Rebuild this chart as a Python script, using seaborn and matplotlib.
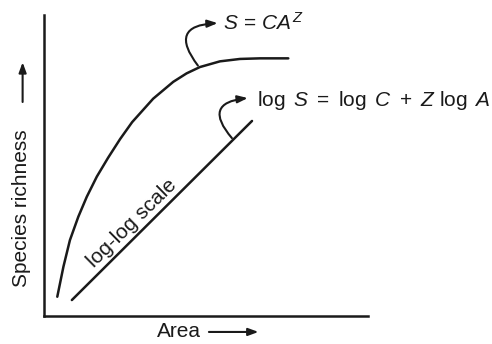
import matplotlib
matplotlib.use("Agg")
import matplotlib.pyplot as plt
import seaborn as sns
import pandas as pd

# ---- data (axes scaled 0-100) ----
curve_area = [4.1, 6.0, 8.0, 10.6, 13.2, 16.3, 19.8, 23.5, 27.2, 33.7, 39.9,
              44.0, 48.1, 54.3, 60.5, 66.7, 75.4]
curve_richness = [6.4, 16.4, 25.2, 33.0, 39.6, 46.3, 52.6, 58.8, 64.4, 72.2, 77.8,
                  80.6, 82.7, 84.6, 85.4, 85.6, 85.6]
loglog_area = [8.6, 64.2]
loglog_richness = [5.3, 64.8]

label_curve = r"$S\,=\,CA^{Z}$"
label_line = r"$\log\ S\ =\ \log\ C\ +\ Z\ \log\ A$"
label_scale = "log-log scale"
xlabel = "Area"
ylabel = "Species richness"

sns.set_style("white")
plt.rcParams["font.family"] = ["Liberation Sans", "DejaVu Sans"]
plt.rcParams["mathtext.fontset"] = "custom"
plt.rcParams["mathtext.rm"] = "Liberation Sans"
plt.rcParams["mathtext.it"] = "Liberation Sans:italic"
plt.rcParams["mathtext.bf"] = "Liberation Sans:bold"

ink = "#1a1a1a"
fs = 15

fig = plt.figure(figsize=(4.92, 3.44), dpi=100)
ax = fig.add_axes([44 / 492, 28 / 344, 324 / 492, 301 / 344])

df_curve = pd.DataFrame({"area": curve_area, "richness": curve_richness})
df_line = pd.DataFrame({"area": loglog_area, "richness": loglog_richness})
sns.lineplot(data=df_curve, x="area", y="richness", ax=ax, color=ink, lw=1.8,
             estimator=None, sort=False, solid_joinstyle="round",
             solid_capstyle="round")
sns.lineplot(data=df_line, x="area", y="richness", ax=ax, color=ink, lw=1.8,
             estimator=None, sort=False, solid_capstyle="round")

ax.set_xlim(0, 100)
ax.set_ylim(0, 100)
ax.set_xticks([])
ax.set_yticks([])
ax.set_xlabel("")
ax.set_ylabel("")
for s in ["top", "right"]:
    ax.spines[s].set_visible(False)
for s in ["left", "bottom"]:
    ax.spines[s].set_linewidth(1.8)
    ax.spines[s].set_color(ink)

arrow_kw = dict(arrowstyle="-|>,head_length=0.6,head_width=0.22", color=ink, lw=1.5,
                shrinkA=0, shrinkB=0)

# curly annotation arrows
ax.annotate("", xy=(53.6, 97.3), xytext=(47.5, 83.2),
            arrowprops=dict(connectionstyle="arc3,rad=-0.95", **arrow_kw),
            annotation_clip=False)
ax.text(55.2, 97.3, label_curve, fontsize=fs, color=ink, ha="left", va="center",
        clip_on=False)

ax.annotate("", xy=(62.9, 72.4), xytext=(58.0, 59.1),
            arrowprops=dict(connectionstyle="arc3,rad=-0.95", **arrow_kw),
            annotation_clip=False)
ax.text(65.7, 71.6, label_line, fontsize=fs, color=ink, ha="left", va="center",
        clip_on=False)

ax.text(27.2, 30.8, label_scale, fontsize=fs, color=ink, ha="center", va="center",
        rotation=44.5, rotation_mode="anchor")

# axis labels with arrows
ax.text(0.418, -0.053, xlabel, transform=ax.transAxes, fontsize=fs, color=ink,
        ha="center", va="center", clip_on=False)
ax.annotate("", xy=(0.662, -0.053), xytext=(0.509, -0.053), xycoords="axes fraction",
            textcoords="axes fraction", arrowprops=arrow_kw, annotation_clip=False)

ax.text(-0.068, 0.357, ylabel, transform=ax.transAxes, fontsize=fs, color=ink,
        ha="center", va="center", rotation=90, clip_on=False)
ax.annotate("", xy=(-0.066, 0.843), xytext=(-0.066, 0.711), xycoords="axes fraction",
            textcoords="axes fraction", arrowprops=arrow_kw, annotation_clip=False)

fig.savefig("out.png", dpi=100)
